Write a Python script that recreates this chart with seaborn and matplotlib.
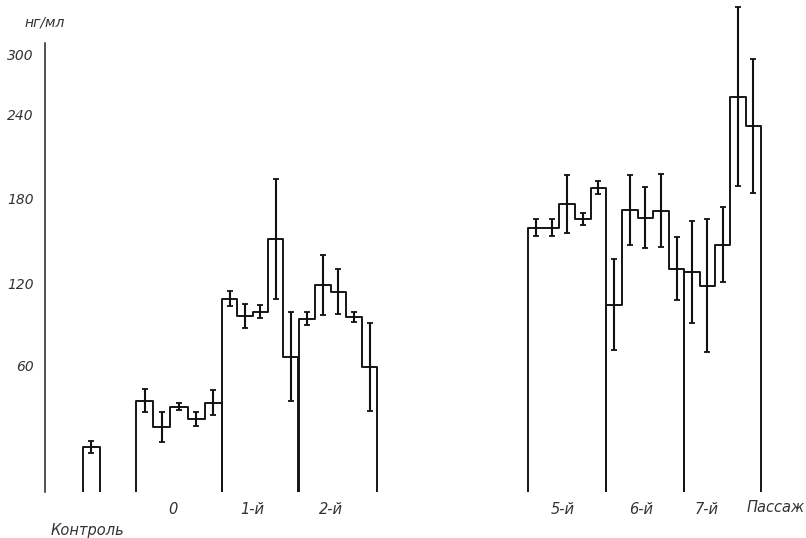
import numpy as np
import pandas as pd
import matplotlib
matplotlib.use("Agg")
import matplotlib.pyplot as plt
import seaborn as sns

# ---------------- data (нг/мл) ----------------
groups = ["0", "1-й", "2-й", "5-й", "6-й", "7-й"]
control_value = [31.0]
control_err = [4.0]
g0_values = [62.5, 44.6, 58.3, 50.1, 61.1]
g0_errors = [7.9, 10.3, 2.4, 5.1, 8.6]
g1_values = [132.5, 120.8, 123.5, 173.6, 92.7]
g1_errors = [5.1, 8.2, 4.5, 41.2, 30.5]
g2_values = [118.7, 142.1, 137.3, 120.1, 85.8]
g2_errors = [4.5, 20.6, 15.4, 3.4, 30.2]
g5_values = [181.2, 181.2, 197.7, 187.4, 208.6]
g5_errors = [5.8, 5.8, 19.9, 4.1, 4.5]
g6_values = [128.3, 193.5, 188.1, 192.9, 153.1]
g6_errors = [31.2, 24.0, 20.9, 25.0, 21.6]
g7_values = [151.0, 141.4, 169.5, 271.1, 251.2]
g7_errors = [35.0, 45.6, 25.7, 61.4, 46.0]
ytick_labels = ["60", "120", "180", "240", "300"]

values = [g0_values, g1_values, g2_values, g5_values, g6_values, g7_values]
errors = [g0_errors, g1_errors, g2_errors, g5_errors, g6_errors, g7_errors]

# ---------------- layout ----------------
group_starts = [6.0, 11.5, 16.45, 31.1, 36.1, 41.1]
bin_widths = [1.1, 0.98, 1.0, 1.0, 1.0, 0.98]
label_offsets = [-0.4, -0.5, -0.45, -0.3, -0.3, -1.0]
control_left, control_width = 2.6, 1.1
ytick_pos = [87, 143, 201, 259, 300]

sns.set_theme(style="white")
plt.rcParams["font.family"] = ["DejaVu Sans"]

fig = plt.figure(figsize=(8.06, 5.38), dpi=100)
ax = fig.add_axes([45 / 806, 46 / 538, (800 - 45) / 806, (492 - 3.5) / 538])


def outline(name, left, width, vals):
    edges = left + width * np.arange(len(vals) + 1)
    xs, ys = [edges[0]], [0.0]
    for i, v in enumerate(vals):
        xs += [edges[i], edges[i + 1]]
        ys += [v, v]
    xs.append(edges[-1])
    ys.append(0.0)
    return pd.DataFrame({"x": xs, "y": ys, "group": name}), edges


frames = []
centers_all, vals_all, errs_all = [], [], []
df_c, e_c = outline("Контроль", control_left, control_width, control_value)
frames.append(df_c)
centers_all += list((e_c[:-1] + e_c[1:]) / 2)
vals_all += control_value
errs_all += control_err
label_x = []
for name, st, w, v, e, off in zip(groups, group_starts, bin_widths, values, errors, label_offsets):
    d, ed = outline(name, st, w, v)
    frames.append(d)
    centers_all += list((ed[:-1] + ed[1:]) / 2)
    vals_all += v
    errs_all += e
    label_x.append((ed[0] + ed[-1]) / 2 + off)
df = pd.concat(frames, ignore_index=True)

sns.lineplot(data=df, x="x", y="y", units="group", estimator=None, sort=False,
             color="#151515", linewidth=1.4, ax=ax, legend=False)
ax.errorbar(centers_all, vals_all, yerr=errs_all, fmt="none", ecolor="#111111",
            elinewidth=1.5, capsize=2.5, capthick=1.3, clip_on=False)

ax.set_xlim(0.176, 48.5)
ax.set_ylim(0, 335)
for s in ["top", "right", "bottom"]:
    ax.spines[s].set_visible(False)
ax.spines["left"].set_bounds(0, 308)
ax.spines["left"].set_color("#222222")
ax.spines["left"].set_linewidth(1.1)

ax.set_yticks(ytick_pos)
ax.set_yticklabels(ytick_labels, fontstyle="italic", fontsize=10, color="#333333")
ax.set_xticks(label_x)
ax.set_xticklabels(groups, fontstyle="italic", fontsize=10.5, color="#333333")
ax.tick_params(axis="both", length=0)
ax.tick_params(axis="y", pad=8)
ax.tick_params(axis="x", pad=7)
ax.set_xlabel("")
ax.set_ylabel("")

fig.text(45 / 806, 1 - 23 / 538, "нг/мл", ha="center", va="center",
         fontstyle="italic", fontsize=10, color="#333333")
fig.text(87 / 806, 1 - 530 / 538, "Контроль", ha="center", va="center",
         fontstyle="italic", fontsize=10.5, color="#333333")
fig.text(776 / 806, 1 - 508 / 538, "Пассаж", ha="center", va="center",
         fontstyle="italic", fontsize=10.5, color="#333333")

fig.savefig("out.png", dpi=100)
